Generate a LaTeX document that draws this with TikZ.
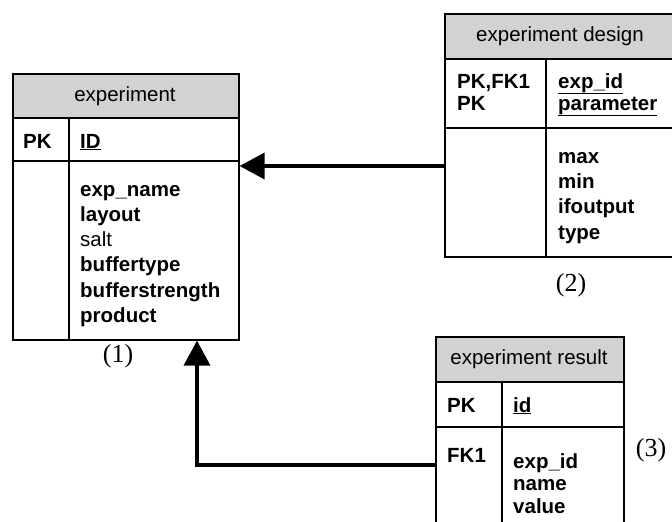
\documentclass[tikz,border=0pt]{standalone}
\usepackage{fontspec}
\setmainfont{Liberation Sans}
\newfontfamily\labelfont{Liberation Serif}
\usetikzlibrary{arrows.meta}
\definecolor{hdrgray}{RGB}{210,210,210}
\begin{document}
\begin{tikzpicture}[x=1pt,y=-1pt,
  tbl/.style={draw, line width=1.6pt, inner sep=0pt, anchor=north west},
  rule/.style={line width=1.6pt},
  title/.style={inner sep=0pt, font=\fontsize{20.5}{25}\selectfont},
  keytxt/.style={anchor=base west, inner sep=0pt, align=left,
                 font=\fontsize{20.5}{22}\selectfont\bfseries},
  attr/.style={anchor=base west, inner sep=0pt, align=left,
               font=\fontsize{20.5}{25.3}\selectfont\bfseries},
  tag/.style={inner sep=0pt, font=\fontsize{26}{30}\labelfont},
  conn/.style={line width=3.6pt, -{Triangle[length=25pt,width=26pt]}}]
\useasboundingbox (0,0) rectangle (672,522);
\clip (0,0) rectangle (672,522);

% table: experiment (multi-line nodes sit on the baseline of their last line)
\fill[hdrgray] (12,73) rectangle (238,118);
\node[tbl, minimum width=226pt, minimum height=266pt] (exp) at (12,73) {};
\draw[rule] (12,118) -- (238,118);
\draw[rule] (12,161) -- (238,161);
\draw[rule] (69,118) -- (69,339);
\node[title] (expT) at (125,96) {experiment};
\node[keytxt] (expK) at (23,148) {PK};
\node[keytxt] (expI) at (80,148) {\underline{ID}};
\node[attr] (expA) at (80,322.5) {exp\_name\\layout\\\mdseries salt\\buffertype\\bufferstrength\\product};
\node[tag] (l1) at (118,356) {(1)};

% table: experiment design
\fill[hdrgray] (444,13) rectangle (676,59);
\node[tbl, minimum width=232pt, minimum height=243pt] (des) at (444,13) {};
\draw[rule] (444,59) -- (676,59);
\draw[rule] (444,128) -- (676,128);
\draw[rule] (546,59) -- (546,256);
\node[title] (desT) at (560,36) {experiment design};
\node[keytxt] (desK) at (457,110) {PK,FK1\\PK};
\node[keytxt] (desI) at (558,110) {\underline{exp\_id}\\\underline{parameter}};
\node[attr] (desA) at (558,239) {max\\min\\ifoutput\\type};
\node[tag] (l2) at (571,285) {(2)};

% table: experiment result
\fill[hdrgray] (435,336) rectangle (623,382);
\node[tbl, minimum width=188pt, minimum height=194pt] (res) at (435,336) {};
\draw[rule] (435,382) -- (623,382);
\draw[rule] (435,427) -- (623,427);
\draw[rule] (502,382) -- (502,530);
\node[title] (resT) at (529,359) {experiment result};
\node[keytxt] (resK) at (447,412) {PK};
\node[keytxt] (resI) at (513,412) {\underline{id}};
\node[keytxt] (resF) at (447,462) {FK1};
\node[keytxt, font=\fontsize{20.5}{22.5}\selectfont\bfseries] (resA) at (513,513) {exp\_id\\name\\value};
\node[tag] (l3) at (651,450) {(3)};

% relationships
\coordinate (dj) at (340,166);
\coordinate (rj) at (197,465);
\draw[conn] (des.west |- dj) -- (exp.east |- dj);
\draw[conn] (res.west |- rj) -- (rj) -- (exp.south -| rj);
\end{tikzpicture}
\end{document}
